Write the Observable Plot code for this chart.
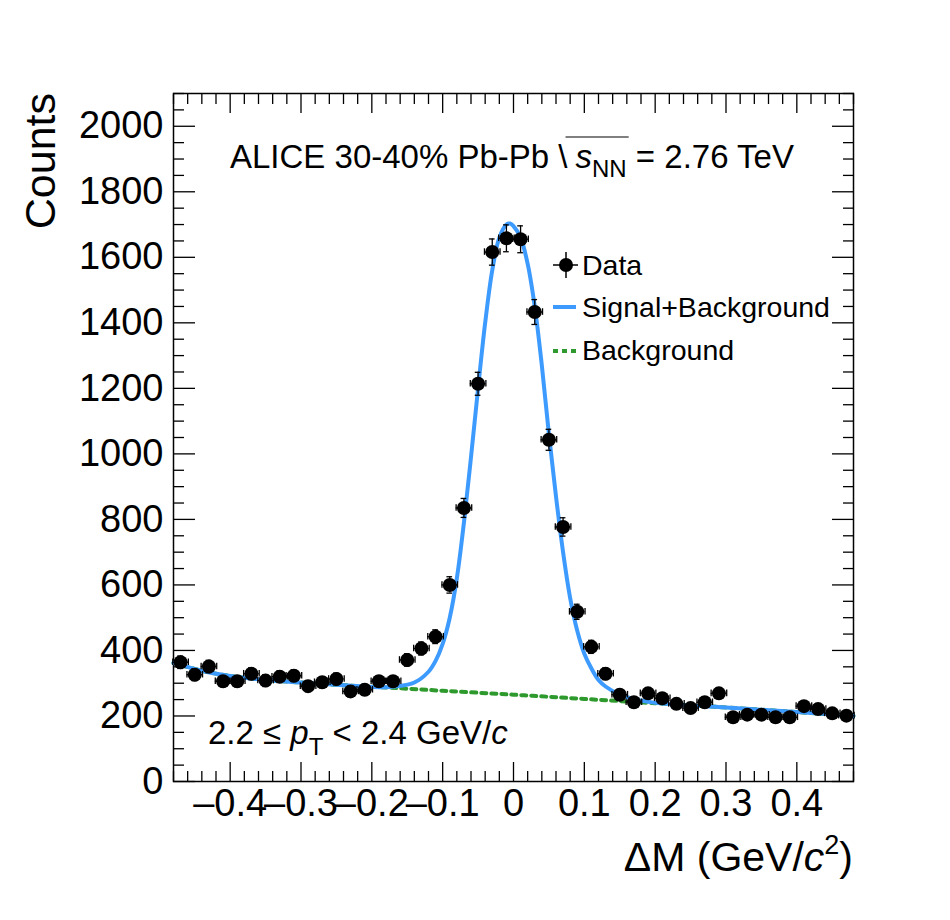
<!DOCTYPE html>
<html>
<head>
<meta charset="utf-8">
<script src="https://cdn.jsdelivr.net/npm/d3@7"></script>
<script src="https://cdn.jsdelivr.net/npm/@observablehq/plot@0.6"></script>
<style>
  body { margin: 0; background: #fff; }
  #chart svg { font-family: "Liberation Sans", Arial, sans-serif; }
</style>
</head>
<body>
<div id="chart"></div>
<script>
// measured points (bin centres, counts, stat errors)
const binX = [-0.47,-0.45,-0.43,-0.41,-0.39,-0.37,-0.35,-0.33,-0.31,-0.29,-0.27,-0.25,-0.23,-0.21,-0.19,-0.17,
  -0.15,-0.13,-0.11,-0.09,-0.07,-0.05,-0.03,-0.01,0.01,0.03,0.05,0.07,0.09,0.11,0.13,0.15,0.17,0.19,0.21,0.23,
  0.25,0.27,0.29,0.31,0.33,0.35,0.37,0.39,0.41,0.43,0.45,0.47];
const counts = [364,326,351,306,306,329,308,320,323,291,303,313,275,280,306,306,
  371,406,442,600,835,1214,1616,1658,1655,1433,1043,777,518,411,329,265,242,269,254,237,
  224,242,269,196,204,204,196,196,230,221,208,201];
const errs = [19,18,19,17,17,18,18,18,18,17,17,18,17,17,17,17,
  19,20,21,25,29,35,40,41,41,38,32,28,23,20,18,16,16,16,16,15,
  15,16,16,14,14,14,14,14,15,15,14,14];

// fit curves
const fitX = [-0.48,-0.44,-0.40,-0.36,-0.30,-0.24,-0.18,-0.16,-0.14,-0.12,-0.11,-0.10,-0.09,-0.08,-0.07,-0.06,-0.05,-0.04,
  -0.03,-0.02,-0.01,-0.005,0,0.01,0.02,0.03,0.04,0.05,0.06,0.07,0.08,0.09,0.10,0.11,0.12,0.13,0.15,0.17,0.20,0.30,0.40,0.48];
const fitY = [362,338,322,312,302,294,288,292,302,335,368,420,500,620,790,990,1200,1400,
  1560,1660,1700,1703,1695,1660,1580,1450,1270,1060,870,700,560,460,390,345,310,290,265,252,240,226,212,200];
const bkgX = [-0.48,-0.44,-0.40,-0.36,-0.30,-0.24,-0.18,-0.10,0,0.10,0.20,0.30,0.40,0.48];
const bkgY = [362,338,322,312,302,294,287,277,265,252,239,226,212,200];

const yMajor = [0,200,400,600,800,1000,1200,1400,1600,1800,2000];
const yMinor = d3.range(0, 2101, 50).filter(v => v % 200 !== 0);
const xMajor = [-0.4,-0.3,-0.2,-0.1,0,0.1,0.2,0.3,0.4];
const xMinor = d3.range(-48, 49, 2).map(v => v / 100).filter(v => Math.round(v * 100) % 10 !== 0);

const pts = binX.map((x, i) => ({x, y: counts[i], e: errs[i]}));
const fit = fitX.map((x, i) => ({x, y: fitY[i]}));
const bkg = bkgX.map((x, i) => ({x, y: bkgY[i]}));

const fmtX = d => Math.abs(d) < 1e-9 ? "0" : (d < 0 ? "\u2013" : "") + Math.abs(d).toFixed(1);
const blue = "#3d9bff", green = "#2e9a2e";

const chart = Plot.plot({
  width: 950,
  height: 920,
  marginLeft: 173,
  marginRight: 97,
  marginTop: 93,
  marginBottom: 139,
  style: {fontSize: "38px", fontFamily: "Liberation Sans, Arial, sans-serif", color: "#000", background: "#fff"},
  x: {domain: [-0.48, 0.48]},
  y: {domain: [0, 2100]},
  marks: [
    Plot.axisX(xMajor, {anchor: "bottom", tickSize: 0, tickPadding: 8, tickFormat: fmtX, fontSize: 38, label: null}),
    Plot.axisX(xMajor, {anchor: "bottom", tickSize: -19, text: null, label: null, strokeWidth: 1.3}),
    Plot.axisX(xMinor, {anchor: "bottom", tickSize: -10, text: null, label: null, strokeWidth: 1.3}),
    Plot.axisX(xMajor, {anchor: "top", tickSize: -19, text: null, label: null, strokeWidth: 1.3}),
    Plot.axisX(xMinor, {anchor: "top", tickSize: -10, text: null, label: null, strokeWidth: 1.3}),
    Plot.axisY(yMajor, {anchor: "left", tickSize: 0, tickPadding: 10, tickFormat: d => String(d), fontSize: 38, label: null}),
    Plot.axisY(yMajor, {anchor: "left", tickSize: -22, text: null, label: null, strokeWidth: 1.3}),
    Plot.axisY(yMinor, {anchor: "left", tickSize: -11, text: null, label: null, strokeWidth: 1.3}),
    Plot.axisY(yMajor, {anchor: "right", tickSize: -22, text: null, label: null, strokeWidth: 1.3}),
    Plot.axisY(yMinor, {anchor: "right", tickSize: -11, text: null, label: null, strokeWidth: 1.3}),
    Plot.frame({stroke: "#000", strokeWidth: 1.5}),
    Plot.line(bkg, {x: "x", y: "y", stroke: green, strokeWidth: 4, strokeDasharray: "5,5", curve: "catmull-rom"}),
    Plot.line(fit, {x: "x", y: "y", stroke: blue, strokeWidth: 4, curve: "catmull-rom"}),
    Plot.ruleX(pts, {x: "x", y1: d => d.y - d.e, y2: d => d.y + d.e, stroke: "#000", strokeWidth: 1.3}),
    Plot.ruleY(pts, {y: "y", x1: d => d.x - 0.011, x2: d => d.x + 0.011, stroke: "#000", strokeWidth: 1.3}),
    Plot.ruleY(pts, {y: d => d.y - d.e, x1: d => d.x - 0.004, x2: d => d.x + 0.004, stroke: "#000", strokeWidth: 1.3}),
    Plot.ruleY(pts, {y: d => d.y + d.e, x1: d => d.x - 0.004, x2: d => d.x + 0.004, stroke: "#000", strokeWidth: 1.3}),
    Plot.ruleX(pts, {x: d => d.x - 0.011, y1: d => d.y - 10, y2: d => d.y + 10, stroke: "#000", strokeWidth: 1.3}),
    Plot.ruleX(pts, {x: d => d.x + 0.011, y1: d => d.y - 10, y2: d => d.y + 10, stroke: "#000", strokeWidth: 1.3}),
    Plot.dot(pts, {x: "x", y: "y", r: 7, fill: "#000"})
  ]
});

document.getElementById("chart").appendChild(chart);

// annotations, axis titles and legend
const svg = d3.select(chart);
const txt = (x, y, size, anchor) => svg.append("text").attr("x", x).attr("y", y)
  .attr("font-size", size).attr("text-anchor", anchor || "start").attr("fill", "#000");

txt(0, 0, 43, "end").attr("transform", "translate(55,93) rotate(-90)").text("Counts");

const xt = txt(853, 871, 41, "end");
xt.append("tspan").text("\u0394M (GeV/");
xt.append("tspan").attr("font-style", "italic").text("c");
xt.append("tspan").attr("font-size", 27).attr("dy", -17).text("2");
xt.append("tspan").attr("dy", 17).text(")");

const t1 = txt(230, 168, 33);
t1.append("tspan").text("ALICE 30-40% Pb-Pb ");
const slash = t1.append("tspan").text("\\");
t1.append("tspan").attr("font-style", "italic").attr("dx", 8).text("s");
const nn = t1.append("tspan").attr("font-size", 24).attr("dy", 9).text("NN");
t1.append("tspan").attr("dy", -9).text(" = 2.76 TeV");
const sb = slash.node().getExtentOfChar(0), nb = nn.node().getExtentOfChar(1);
svg.append("line").attr("x1", sb.x + sb.width - 2).attr("x2", nb.x + nb.width + 2)
  .attr("y1", 137).attr("y2", 137).attr("stroke", "#000").attr("stroke-width", 1);

const t2 = txt(208, 744, 33);
t2.append("tspan").text("2.2 \u2264 ");
t2.append("tspan").attr("font-style", "italic").text("p");
t2.append("tspan").attr("font-size", 24).attr("dy", 11).text("T");
t2.append("tspan").attr("dy", -11).text(" < 2.4 GeV/");
t2.append("tspan").attr("font-style", "italic").text("c");

// legend
svg.append("line").attr("x1", 553).attr("x2", 578).attr("y1", 265).attr("y2", 265).attr("stroke", "#000").attr("stroke-width", 1.5);
svg.append("line").attr("x1", 566).attr("x2", 566).attr("y1", 252).attr("y2", 278).attr("stroke", "#000").attr("stroke-width", 1.5);
svg.append("circle").attr("cx", 566).attr("cy", 265).attr("r", 7).attr("fill", "#000");
txt(582, 275, 28.5).text("Data");
svg.append("line").attr("x1", 553).attr("x2", 576).attr("y1", 307).attr("y2", 307).attr("stroke", blue).attr("stroke-width", 4);
txt(582, 317, 28.5).text("Signal+Background");
svg.append("line").attr("x1", 553).attr("x2", 576).attr("y1", 351).attr("y2", 351).attr("stroke", green).attr("stroke-width", 4).attr("stroke-dasharray", "5,4");
txt(582, 360, 28.5).text("Background");
</script>
</body>
</html>
